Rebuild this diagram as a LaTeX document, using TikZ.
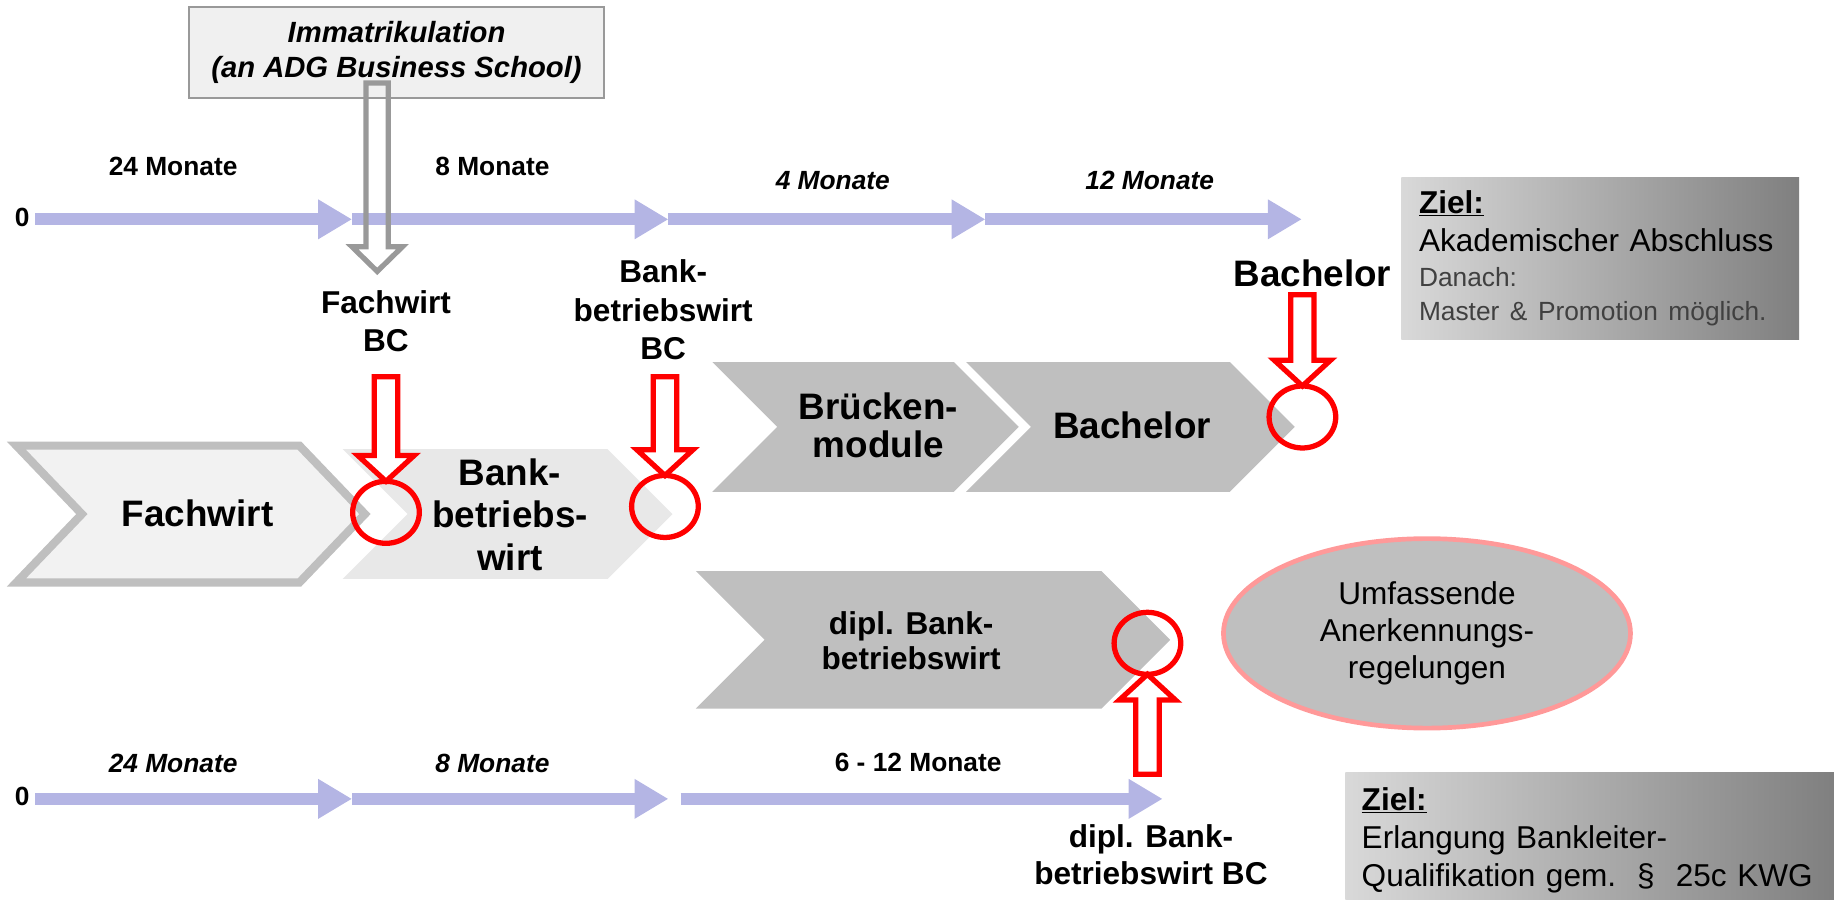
\documentclass[tikz,border=0pt]{standalone}
\usepackage{fontspec}
\setmainfont{Liberation Sans}
\usetikzlibrary{arrows.meta,shapes.geometric}
\definecolor{zeitfarbe}{RGB}{180,181,228}
\definecolor{rosa}{RGB}{255,153,153}

\begin{document}
\begin{tikzpicture}[x=1pt,y=-1pt,
    zeitpfeil/.style={draw=zeitfarbe, line width=10pt, -{Triangle[length=29pt,width=32pt]}},
    monate/.style={font=\fontsize{22.5}{27}\selectfont\bfseries, inner sep=0pt},
    monatek/.style={font=\fontsize{22.5}{27}\selectfont\bfseries\itshape, inner sep=0pt},
    etikett/.style={font=\fontsize{27}{32.5}\selectfont\bfseries, align=center, inner sep=0pt},
    chevtext/.style={font=\fontsize{31.5}{36}\selectfont\bfseries, align=center, inner sep=0pt},
    kreis/.style={ellipse, draw=red, line width=4.5pt, inner sep=0pt, outer sep=0pt,
        minimum width=57pt, minimum height=53pt},
    hohl/.style={draw=#1, line width=4.5pt, fill=white, line join=miter},
    ziel/.style={anchor=north west, align=left, left color=black!15, right color=black!50,
        inner xsep=15pt, font=\fontsize{27}{32.5}\selectfont}
]
    \useasboundingbox (0,0) rectangle (1568,769);

    \node[draw=gray!80, fill=gray!12, line width=2pt, minimum width=355pt, minimum height=78pt,
        font=\fontsize{25}{30}\selectfont\bfseries\itshape, align=center] (immat) at (339,45)
        {Immatrikulation\\(an ADG Business School)};

    \draw[draw=gray!50, fill=gray!10, line width=7pt, line join=miter]
        (14,381) -- (256,381) -- (312,439.5) -- (256,498) -- (14,498) -- (70,439.5) -- cycle;
    \foreach \f/\l/\r/\m/\h in {gray!18/293/575/439.5/55.5, gray!50/609/871/365/55.5,
        gray!50/826/1107/365/55.5, gray!50/595/1000.5/547/58.75}
        \fill[\f] (\l,\m-\h) -- (\r-\h,\m-\h) -- (\r,\m) -- (\r-\h,\m+\h) -- (\l,\m+\h) -- (\l+\h,\m) -- cycle;

    \node[chevtext] (fachwirt) at (169,439) {Fachwirt};
    \node[chevtext, font=\fontsize{31.5}{36.3}\selectfont\bfseries] (bankbw) at (436,440) {Bank-\\betriebs-\\wirt};
    \node[chevtext, font=\fontsize{31.5}{32.5}\selectfont\bfseries] (bruecken) at (751,364) {Brücken-\\module};
    \node[chevtext] (bachelor) at (968,363.5) {Bachelor};
    \node[etikett, font=\fontsize{27}{30}\selectfont\bfseries] (diplbw) at (779,548) {dipl. Bank-\\betriebswirt};

    \foreach \n/\x in {o0/30, o1/301, o2/571.5, o3/842.5, o4/1113}
        \coordinate (\n) at (\x,187.5);
    \foreach \n/\x in {u0/30, u1/301, u2/571.5, u3/582, u4/994}
        \coordinate (\n) at (\x,683);
    \foreach \a/\b in {o0/o1, o1/o2, o2/o3, o3/o4, u0/u1, u1/u2, u3/u4}
        \draw[zeitpfeil] (\a) -- (\b);

    \foreach \n/\s/\x/\y/\t in {onull/monate/19/186/0, o24/monate/148/142.5/24 Monate,
        o8/monate/421/142.5/8 Monate, o4m/monatek/712/154/4 Monate, o12/monatek/983/154/12 Monate,
        unull/monate/19/681/0, u24/monatek/148/653/24 Monate, u8/monatek/421/653/8 Monate,
        u612/monate/785/652/6 - 12 Monate}
        \node[\s] (\n) at (\x,\y) {\t};

    \coordinate (immspitze) at (322.5,232);
    \draw[hohl=gray!80, fill=none] (immspitze) -- ++(21.5,-21) -- ++(-12,0) -- ++(0,-140)
        -- ++(-19,0) -- ++(0,140) -- ++(-12,0) -- cycle;

    \node[etikett] (fwbc) at (330,275) {Fachwirt\\BC};
    \node[etikett, font=\fontsize{27}{33}\selectfont\bfseries] (bbwbc) at (567,265) {Bank-\\betriebswirt\\BC};
    \node[etikett, font=\fontsize{31.5}{36}\selectfont\bfseries] (bachbc) at (1122,234) {Bachelor};
    \node[etikett, font=\fontsize{27}{31.6}\selectfont\bfseries] (diplbc) at (984,731) {dipl. Bank-\\betriebswirt BC};

    \node[kreis] (k1) at (330,438) {};
    \node[kreis] (k2) at (568.5,433) {};
    \node[kreis] (k3) at (1113.5,356.5) {};
    \node[kreis] (k4) at (981,550) {};

    \foreach \k/\l in {k1/89.5, k2/84.5, k3/78}
        \draw[hohl=red] (\k.north) -- ++(24,-22) -- ++(-14,0) -- ++(0,22-\l) -- ++(-20,0)
            -- ++(0,\l-22) -- ++(-14,0) -- cycle;
    \draw[hohl=red] (k4.south) -- ++(24,22) -- ++(-14,0) -- ++(0,63.5) -- ++(-20,0)
        -- ++(0,-63.5) -- ++(-14,0) -- cycle;

    \node[ellipse, fill=gray!50, draw=rosa, line width=4pt, minimum width=348pt, minimum height=162pt,
        font=\fontsize{27}{32}\selectfont, align=center] (anerk) at (1220,541.5)
        {Umfassende\\Anerkennungs-\\regelungen};

    \node[ziel, text width=310pt, minimum height=138.5pt] (ziel1) at (1198,151.5)
        {\textbf{\underline{Ziel:}}\\Akademischer Abschluss\par
        {\fontsize{22.5}{29.5}\selectfont\color{black!75}Danach:\\Master \& Promotion möglich.\par}};
    \node[ziel, text width=390pt, minimum height=116pt, inner xsep=14pt] (ziel2) at (1150,660)
        {\textbf{\underline{Ziel:}}\\Erlangung Bankleiter-\\Qualifikation gem.\ \ §\ \ 25c KWG};
\end{tikzpicture}
\end{document}
